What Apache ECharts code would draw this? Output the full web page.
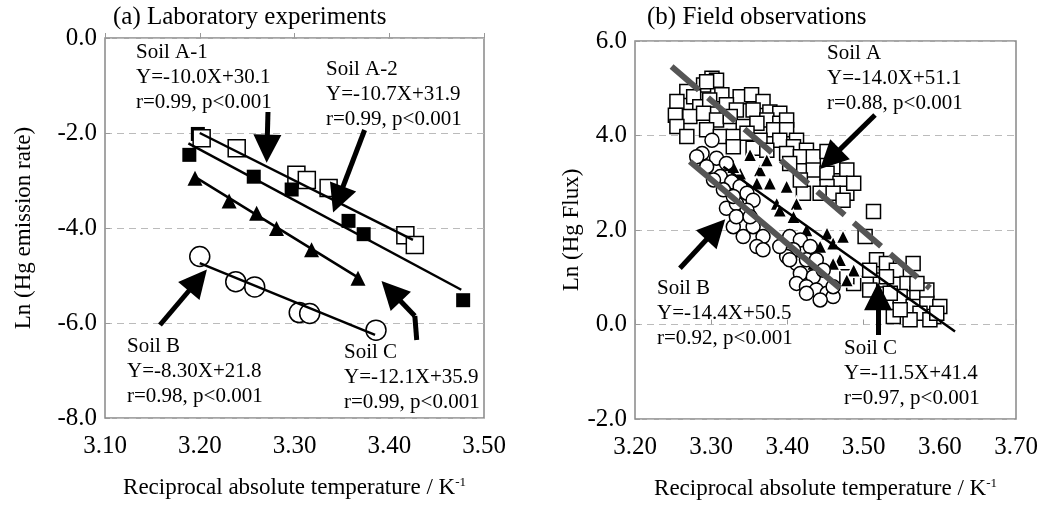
<!DOCTYPE html>
<html>
<head>
<meta charset="utf-8">
<script src="https://cdn.jsdelivr.net/npm/echarts@6/dist/echarts.min.js"></script>
<style>
  html, body { margin: 0; padding: 0; background: #fff; }
  #main { width: 1042px; height: 509px; }
</style>
</head>
<body>
<div id="main"></div>
<script>
// ---- (a) laboratory experiments ----
const labA1 = [[3.202, -2.11], [3.239, -2.32], [3.302, -2.88], [3.313, -2.99], [3.336, -3.16], [3.417, -4.15], [3.427, -4.36]];
const labA2 = [[3.198, -2.02], [3.189, -2.46], [3.257, -2.92], [3.297, -3.19], [3.357, -3.85], [3.373, -4.13], [3.478, -5.52]];
const labB = [[3.200, -4.60], [3.238, -5.13], [3.258, -5.24], [3.305, -5.78], [3.316, -5.80], [3.386, -6.15]];
const labC = [[3.195, -2.95], [3.231, -3.43], [3.260, -3.69], [3.281, -4.01], [3.318, -4.46], [3.367, -5.06]];
const labFitA1 = [[3.200, -2.00], [3.425, -4.25]];
const labFitA2 = [[3.188, -2.22], [3.476, -5.30]];
const labFitB = [[3.200, -4.74], [3.385, -6.25]];
const labFitC = [[3.197, -2.95], [3.366, -5.03]];
const labArrows = [
  [[3.272, -1.558], [3.271, -2.330]],
  [[3.374, -1.937], [3.346, -3.400]],
  [[3.158, -6.042], [3.198, -5.100]],
  [[3.427, -5.853], [3.402, -5.330]]
];
const labShafts = [[[3.429, -6.358], [3.427, -5.853]]];

// ---- (b) field observations ----
const fieldA = [
  [3.268, 4.93], [3.290, 5.07], [3.301, 5.21], [3.307, 5.17], [3.314, 4.86], [3.338, 4.82], [3.353, 4.86], [3.368, 4.72], [3.377, 4.50], [3.390, 4.47],
  [3.255, 4.72], [3.277, 4.82], [3.285, 4.61], [3.298, 4.75], [3.320, 4.65], [3.333, 4.54], [3.355, 4.54], [3.373, 4.33], [3.390, 4.26], [3.399, 4.33],
  [3.253, 4.43], [3.272, 4.40], [3.290, 4.47], [3.307, 4.33], [3.325, 4.40], [3.342, 4.19], [3.360, 4.26], [3.382, 4.12], [3.399, 4.12], [3.412, 3.90],
  [3.255, 4.19], [3.268, 3.98], [3.294, 4.12], [3.312, 3.98], [3.329, 3.98], [3.347, 4.05], [3.364, 3.90], [3.390, 3.90], [3.408, 3.76], [3.425, 3.69],
  [3.329, 3.76], [3.355, 3.73], [3.373, 3.69], [3.399, 3.62], [3.417, 3.55], [3.434, 3.55], [3.452, 3.66], [3.460, 3.34], [3.434, 3.27], [3.452, 3.20],
  [3.478, 3.27], [3.469, 2.99], [3.478, 2.78], [3.487, 2.99], [3.452, 2.92], [3.421, 2.78], [3.443, 2.78], [3.460, 2.78], [3.473, 2.63], [3.417, 3.06], [3.403, 3.41],
  [3.294, 5.14], [3.513, 2.39], [3.502, 1.86],
  [3.517, 1.37], [3.530, 1.29], [3.543, 1.15], [3.565, 1.29], [3.557, 0.87], [3.570, 0.66], [3.548, 0.59], [3.539, 0.17], [3.565, 0.38], [3.583, 0.45],
  [3.600, 0.38], [3.592, 0.17], [3.522, 0.94], [3.508, 0.73], [3.535, 0.66], [3.574, 0.24], [3.587, 0.10], [3.561, 0.10], [3.548, 0.31], [3.508, 1.15],
  [3.530, 1.01], [3.583, 0.73], [3.596, 0.24], [3.570, 0.87], [3.487, 0.87], [3.478, 1.01]
];
const fieldB = [
  [3.301, 3.90], [3.288, 3.62], [3.307, 3.52], [3.294, 3.34], [3.281, 3.55], [3.320, 3.41], [3.312, 3.13], [3.327, 3.02], [3.338, 2.92], [3.347, 2.78],
  [3.355, 2.63], [3.320, 2.46], [3.333, 2.56], [3.347, 2.42], [3.329, 2.07], [3.342, 1.86], [3.355, 2.07], [3.368, 1.86], [3.360, 1.65], [3.368, 1.58],
  [3.303, 3.06], [3.316, 2.85], [3.333, 2.28], [3.351, 2.28], [3.329, 2.71],
  [3.403, 1.86], [3.417, 1.79], [3.408, 1.58], [3.430, 1.65], [3.399, 1.44], [3.412, 1.29], [3.425, 1.37], [3.438, 1.37], [3.417, 1.08], [3.434, 1.01],
  [3.447, 1.15], [3.412, 0.87], [3.425, 0.80], [3.438, 0.73], [3.452, 0.66], [3.460, 0.59], [3.443, 0.52], [3.425, 0.66], [3.460, 0.80], [3.390, 1.65], [3.403, 1.37]
];
const fieldC = [
  [3.351, 3.59], [3.364, 3.27], [3.377, 2.99], [3.386, 2.56], [3.390, 2.42], [3.452, 1.93], [3.460, 1.72], [3.434, 1.29], [3.469, 1.37], [3.487, 1.15],
  [3.478, 0.94], [3.373, 3.48], [3.360, 2.99], [3.399, 2.92], [3.412, 2.56], [3.338, 3.20], [3.329, 3.34], [3.408, 2.28], [3.425, 2.00], [3.443, 1.65],
  [3.460, 1.29], [3.473, 1.86]
];
const fieldFitA = [[3.248, 5.46], [3.587, 0.77]];
const fieldFitB = [[3.272, 3.45], [3.469, 0.77]];
const fieldFitC = [[3.316, 3.34], [3.620, -0.15]];
const fieldArrows = [
  [[3.515, 4.434], [3.456, 3.500]],
  [[3.259, 1.189], [3.306, 2.010]],
  [[3.519, -0.222], [3.519, 0.600]]
];

const xTicksLab = { min: 3.1, max: 3.5, interval: 0.1 };
const xTicksField = { min: 3.2, max: 3.7, interval: 0.1 };
const yTicksLab = { min: -8, max: 0, interval: 2 };
const yTicksField = { min: -2, max: 6, interval: 2 };

const FONT = "'Liberation Serif', 'Times New Roman', serif";
let chart = echarts.init(document.getElementById('main'));

function xAxis(grid, t) {
  return {
    type: 'value', gridIndex: grid, min: t.min, max: t.max, interval: t.interval,
    name: 'Reciprocal absolute temperature / K{sup|-1}',
    nameLocation: 'middle', nameGap: 58,
    nameTextStyle: {
      color: '#000', fontFamily: FONT, fontSize: 23,
      rich: { sup: { fontSize: 13, verticalAlign: 'top', lineHeight: 14, fontFamily: FONT, color: '#000' } }
    },
    axisLine: { show: false },
    axisTick: { show: true, inside: true, length: 5, lineStyle: { color: '#999' } },
    splitLine: { show: false },
    axisLabel: { color: '#000', fontFamily: FONT, fontSize: 25, margin: 16, formatter: v => v.toFixed(2) }
  };
}
function yAxis(grid, t, name, gap) {
  return {
    type: 'value', gridIndex: grid, min: t.min, max: t.max, interval: t.interval,
    name: name, nameLocation: 'middle', nameGap: gap,
    nameTextStyle: { color: '#000', fontFamily: FONT, fontSize: 23 },
    axisLine: { show: false },
    axisTick: { show: true, inside: true, length: 5, lineStyle: { color: '#999' } },
    splitLine: { show: true, lineStyle: { color: '#bbb', type: [7, 5], width: 1 } },
    axisLabel: { color: '#000', fontFamily: FONT, fontSize: 25, margin: 8, formatter: v => v.toFixed(1) }
  };
}
function fit(xi, data, color, width, type, z) {
  return {
    type: 'line', xAxisIndex: xi, yAxisIndex: xi, data: data, showSymbol: false, symbol: 'none',
    lineStyle: { color: color, width: width, type: type || 'solid', cap: 'butt' }, z: z || 5, silent: true
  };
}
function dots(xi, data, symbol, size, fill, border, bw, z) {
  return {
    type: 'scatter', xAxisIndex: xi, yAxisIndex: xi, data: data, symbol: symbol, symbolSize: size,
    itemStyle: { color: fill, borderColor: border, borderWidth: bw, opacity: 1 }, z: z
  };
}
function arrows(xi, list, head) {
  return {
    type: 'lines', coordinateSystem: 'cartesian2d', xAxisIndex: xi, yAxisIndex: xi,
    symbol: head ? ['none', 'triangle'] : 'none', symbolSize: 28,
    lineStyle: { color: '#000', width: 5, opacity: 1, curveness: 0 },
    data: list.map(c => ({ coords: c })), z: 6, silent: true
  };
}
function note(x, y, lines) {
  return {
    type: 'text', left: x, top: y, z: 10,
    style: { text: lines.join('\n'), font: '21px ' + FONT, lineHeight: 25, fill: '#000' }
  };
}

chart.setOption({
  animation: false,
  backgroundColor: '#fff',
  grid: [
    { left: 105, top: 38, width: 379, height: 380, show: true, borderColor: '#888', borderWidth: 1.5 },
    { left: 635, top: 41, width: 381, height: 378, show: true, borderColor: '#888', borderWidth: 1.5 }
  ],
  xAxis: [xAxis(0, xTicksLab), xAxis(1, xTicksField)],
  yAxis: [yAxis(0, yTicksLab, 'Ln (Hg emission rate)', 70), yAxis(1, yTicksField, 'Ln (Hg Flux)', 46)],
  graphic: [
    { type: 'text', left: 113, top: 5, style: { text: '(a) Laboratory experiments', font: '25px ' + FONT, fill: '#000' } },
    { type: 'text', left: 647, top: 5, style: { text: '(b) Field observations', font: '25px ' + FONT, fill: '#000' } },
    note(136, 40, ['Soil A-1', 'Y=-10.0X+30.1', 'r=0.99, p<0.001']),
    note(326, 57, ['Soil A-2', 'Y=-10.7X+31.9', 'r=0.99, p<0.001']),
    note(127, 334, ['Soil B', 'Y=-8.30X+21.8', 'r=0.98, p<0.001']),
    note(344, 340, ['Soil C', 'Y=-12.1X+35.9', 'r=0.99, p<0.001']),
    note(827, 41, ['Soil A', 'Y=-14.0X+51.1', 'r=0.88, p<0.001']),
    note(657, 276, ['Soil B', 'Y=-14.4X+50.5', 'r=0.92, p<0.001']),
    note(844, 336, ['Soil C', 'Y=-11.5X+41.4', 'r=0.97, p<0.001'])
  ],
  series: [
    dots(0, labA2, 'rect', 14, '#000', '#000', 0, 2),
    dots(0, labA1, 'rect', 17, '#fff', '#000', 1.5, 3),
    dots(0, labC, 'triangle', 15, '#000', '#000', 0, 2),
    dots(0, labB, 'circle', 20, '#fff', '#000', 1.5, 2),
    fit(0, labFitA1, '#000', 2.5),
    fit(0, labFitA2, '#000', 2.5),
    fit(0, labFitB, '#000', 2.5),
    fit(0, labFitC, '#000', 2.5),
    arrows(0, labArrows, true),
    arrows(0, labShafts, false),

    dots(1, fieldA, 'rect', 14, '#fff', '#000', 1.5, 2),
    dots(1, fieldC, 'triangle', 14, '#000', '#fff', 1.5, 3),
    dots(1, fieldB, 'circle', 14, '#fff', '#000', 1.5, 4),
    fit(1, fieldFitA, '#555', 6, [36, 12], 5),
    fit(1, fieldFitB, '#555', 6, 'solid', 5),
    fit(1, fieldFitC, '#000', 2.5, 'solid', 5),
    arrows(1, fieldArrows, true)
  ]
});
</script>
</body>
</html>
